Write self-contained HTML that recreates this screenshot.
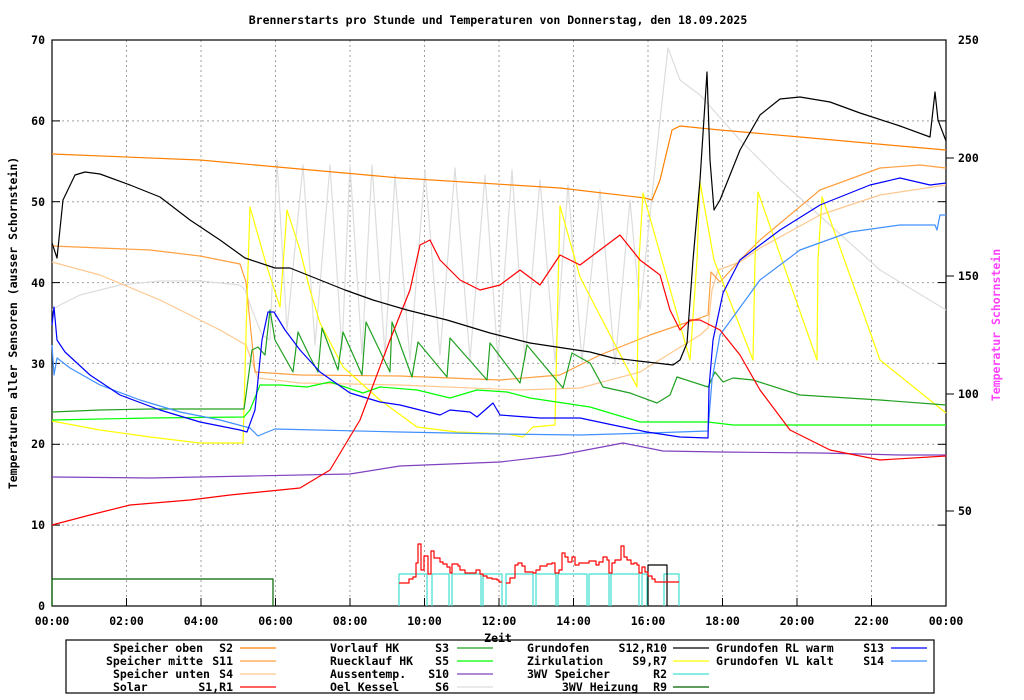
<!DOCTYPE html>
<html><head><meta charset="utf-8"><style>
body{margin:0;background:#fff}
svg{display:block}
text{font-family:"DejaVu Sans Mono","Liberation Mono",monospace;font-size:11.5px;font-weight:bold;fill:#000}
</style></head><body>
<svg width="1024" height="700" xmlns="http://www.w3.org/2000/svg">
<rect width="1024" height="700" fill="#fff"/>
<text x="498" y="24" text-anchor="middle">Brennerstarts pro Stunde und Temperaturen von Donnerstag, den 18.09.2025</text>
<g stroke="#a0a0a0" stroke-dasharray="2,3" stroke-width="1">
<line x1="126.5" y1="40" x2="126.5" y2="606"/><line x1="201" y1="40" x2="201" y2="606"/><line x1="275.5" y1="40" x2="275.5" y2="606"/><line x1="350" y1="40" x2="350" y2="606"/><line x1="424.5" y1="40" x2="424.5" y2="606"/><line x1="499" y1="40" x2="499" y2="606"/><line x1="573.5" y1="40" x2="573.5" y2="606"/><line x1="648" y1="40" x2="648" y2="606"/><line x1="722.5" y1="40" x2="722.5" y2="606"/><line x1="797" y1="40" x2="797" y2="606"/><line x1="871.5" y1="40" x2="871.5" y2="606"/>
<line x1="52" y1="120.9" x2="946" y2="120.9"/><line x1="52" y1="201.7" x2="946" y2="201.7"/><line x1="52" y1="282.6" x2="946" y2="282.6"/><line x1="52" y1="363.4" x2="946" y2="363.4"/><line x1="52" y1="444.3" x2="946" y2="444.3"/><line x1="52" y1="525.1" x2="946" y2="525.1"/>
</g>
<rect x="52" y="40" width="894" height="566" fill="none" stroke="#000" stroke-width="1.2"/>
<g stroke="#000" stroke-width="1">
<line x1="52" y1="120.9" x2="60" y2="120.9"/><line x1="52" y1="201.7" x2="60" y2="201.7"/><line x1="52" y1="282.6" x2="60" y2="282.6"/><line x1="52" y1="363.4" x2="60" y2="363.4"/><line x1="52" y1="444.3" x2="60" y2="444.3"/><line x1="52" y1="525.1" x2="60" y2="525.1"/>
<line x1="938" y1="120.9" x2="946" y2="120.9"/><line x1="938" y1="201.7" x2="946" y2="201.7"/><line x1="938" y1="282.6" x2="946" y2="282.6"/><line x1="938" y1="363.4" x2="946" y2="363.4"/><line x1="938" y1="444.3" x2="946" y2="444.3"/><line x1="938" y1="525.1" x2="946" y2="525.1"/>
<line x1="946" y1="158" x2="954" y2="158"/><line x1="946" y1="276" x2="954" y2="276"/><line x1="946" y1="394" x2="954" y2="394"/><line x1="946" y1="511" x2="954" y2="511"/>
<line x1="126.5" y1="606" x2="126.5" y2="598"/><line x1="201" y1="606" x2="201" y2="598"/><line x1="275.5" y1="606" x2="275.5" y2="598"/><line x1="350" y1="606" x2="350" y2="598"/><line x1="424.5" y1="606" x2="424.5" y2="598"/><line x1="499" y1="606" x2="499" y2="598"/><line x1="573.5" y1="606" x2="573.5" y2="598"/><line x1="648" y1="606" x2="648" y2="598"/><line x1="722.5" y1="606" x2="722.5" y2="598"/><line x1="797" y1="606" x2="797" y2="598"/><line x1="871.5" y1="606" x2="871.5" y2="598"/>
</g>
<g text-anchor="end">
<text x="45" y="44">70</text><text x="45" y="125">60</text><text x="45" y="206">50</text><text x="45" y="287">40</text><text x="45" y="368">30</text><text x="45" y="448">20</text><text x="45" y="529">10</text><text x="45" y="610">0</text>
</g>
<g>
<text x="958" y="44">250</text><text x="958" y="162">200</text><text x="958" y="280">150</text><text x="958" y="398">100</text><text x="958" y="515">50</text>
</g>
<g text-anchor="middle">
<text x="52" y="625">00:00</text><text x="126.5" y="625">02:00</text><text x="201" y="625">04:00</text><text x="275.5" y="625">06:00</text><text x="350" y="625">08:00</text><text x="424.5" y="625">10:00</text><text x="499" y="625">12:00</text><text x="573.5" y="625">14:00</text><text x="648" y="625">16:00</text><text x="722.5" y="625">18:00</text><text x="797" y="625">20:00</text><text x="871.5" y="625">22:00</text><text x="946" y="625">00:00</text>
</g>
<text transform="translate(17,323) rotate(-90)" text-anchor="middle">Temperaturen aller Sensoren (ausser Schornstein)</text>
<text transform="translate(1000,325) rotate(-90)" text-anchor="middle" style="fill:#ff40ff">Temperatur Schornstein</text>

<g fill="none" stroke-width="1.2" stroke-linejoin="round">
<polyline stroke="#dddddd" points="52,310 60,305 80,295 120,285 160,281 200,281 240,285 245,290 252,310 262,335 270,340 277,160 287,330 303,165 315,345 330,165 342,350 350,165 362,355 372,165 385,355 395,175 410,360 425,170 440,355 455,168 470,360 485,175 498,360 512,170 525,360 540,180 555,362 568,185 582,362 600,190 615,365 630,200 640,310 650,215 660,120 668,48 680,80 700,95 740,140 780,180 830,225 880,270 946,310"/>
<polyline stroke="#ffc890" points="52,262 100,275 160,300 220,330 246,345 258,378 300,383 400,385 520,390 580,388 640,372 700,335 708,328 712,290 718,270 740,262 760,248 820,215 880,195 946,185"/>
<polyline stroke="#ffa040" points="52,246 150,250 200,256 240,264 246,282 255,372 300,375 400,376 500,380 560,375 600,355 650,335 700,318 708,315 711,272 720,282 740,260 760,240 820,190 880,168 920,165 946,168"/>
<polyline stroke="#ff8000" points="52,154 200,160 400,178 560,188 645,198 652,200 660,180 672,130 680,126 720,130 800,137 900,146 946,150"/>
<polyline stroke="#ffff00" points="52,421 100,430 150,437 200,443 243,443 247,300 250,207 267,267 280,307 287,210 300,250 310,290 320,323 343,367 380,400 417,427 457,432 507,434 523,437 533,427 555,425 558,290 560,206 580,277 637,387 639,260 643,193 690,360 697,260 700,182 714,260 753,360 755,260 758,192 817,360 818,260 822,197 880,360 946,413"/>
<polyline stroke="#8040c0" points="52,477 150,478 250,476 350,474 400,466 500,462 560,455 623,443 663,451 720,452 820,453 900,455 946,455"/>
<polyline stroke="#00ff00" points="52,420 150,418 244,417 250,410 260,385 280,385 307,387 330,382 363,393 380,387 417,390 450,398 477,390 507,392 530,398 590,407 640,422 708,422 733,425 946,425"/>
<polyline stroke="#20a020" points="52,412 100,410 150,409 244,409 246,395 252,350 258,347 265,355 270,310 275,340 293,372 298,332 310,357 318,372 322,328 338,370 343,332 362,375 366,322 390,372 392,322 412,377 418,342 447,377 450,338 487,380 490,343 520,383 527,345 563,388 572,353 590,363 603,387 630,393 657,403 670,395 677,377 708,387 715,372 723,382 733,378 753,380 800,395 880,400 946,405"/>
<polyline stroke="#4090ff" points="52,345 54,375 57,358 70,368 100,385 140,400 180,412 220,420 250,428 258,436 265,433 275,429 400,432 500,434 580,435 650,433 708,431 712,380 720,335 760,280 800,250 850,232 900,225 935,225 937,230 940,215 946,215"/>
<polyline stroke="#0000ff" points="52,325 54,307 57,340 65,352 90,375 120,395 160,410 200,422 240,430 247,432 255,410 262,340 268,312 274,312 285,330 300,350 320,372 350,393 380,402 400,405 440,415 450,410 470,412 477,417 493,403 500,415 540,418 580,418 613,425 647,432 680,437 708,438 709,388 713,340 723,293 740,260 780,230 820,205 870,185 900,178 930,185 946,183"/>
<polyline stroke="#ff0000" points="52,525 90,515 130,505 190,500 230,495 260,492 300,488 330,470 360,420 390,340 410,290 420,245 430,240 440,260 460,280 480,290 500,285 520,270 540,285 560,255 580,265 600,250 620,235 640,260 660,275 670,310 680,330 690,320 700,320 720,330 740,355 760,390 790,430 830,450 880,460 946,456"/>
<polyline stroke="#000000" points="52,243 57,258 63,200 75,175 85,172 100,174 130,185 160,197 190,220 220,240 245,258 275,268 290,268 300,272 345,290 373,300 407,310 447,320 490,333 530,343 590,352 613,358 647,362 673,365 680,360 687,343 693,260 700,180 707,72 710,160 714,210 720,200 740,150 760,115 780,99 800,97 830,102 860,113 900,126 930,137 935,92 938,120 946,141"/>
<polyline stroke="#006400" points="52,606 52,579 273,579 273,606"/>
<path stroke="#40e0d0" d="M399,606V574H427V606M432,606V574H449V606M452,606V574H481V606M483,606V574H502V606M506,606V574H533V606M536,606V574H556V606M558,606V574H587V606M589,606V574H609V606M611,606V574H639V606M642,606V574H647V606M664,606V574H679V606"/>
<path stroke="#000" d="M648,606V565H667V606"/>
<path stroke="#ff0000" d="M399,583H409V579H413V577H416V563H418V544H421V570H424V556H428V574H431V551H434V558H440V562H443V564H447V567H450V573H452V564H458V566H460V570H465V573H476V570H480V574H483V576H487V578H492V579H497V580H499V582H502 M506,583H510V578H515V565H518V563H522V566H525V572H533V573H536V570H540V566H547V564H552V563H555V573H559V570H562V553H565V557H568V562H572V557H575V565H579V563H589V561H596V565H599V562H603V557H607V560H609V573H612V563H615V560H621V546H624V557H627V560H631V564H634V563H637V565H639V573H642V567H645V572H648V576H652V579H655V582H679"/>
</g>

<rect x="66" y="640" width="868" height="53" fill="#fff" stroke="#000" stroke-width="1.2"/>
<text x="498" y="642" text-anchor="middle">Zeit</text>
<g>
<text x="113" y="652">Speicher oben</text><text x="233" y="652" text-anchor="end">S2</text>
<text x="106" y="665">Speicher mitte</text><text x="233" y="665" text-anchor="end">S11</text>
<text x="113" y="678">Speicher unten</text><text x="233" y="678" text-anchor="end">S4</text>
<text x="113" y="691">Solar</text><text x="233" y="691" text-anchor="end">S1,R1</text>
<text x="330" y="652">Vorlauf HK</text><text x="449" y="652" text-anchor="end">S3</text>
<text x="330" y="665">Ruecklauf HK</text><text x="449" y="665" text-anchor="end">S5</text>
<text x="330" y="678">Aussentemp.</text><text x="449" y="678" text-anchor="end">S10</text>
<text x="330" y="691">Oel Kessel</text><text x="449" y="691" text-anchor="end">S6</text>
<text x="527" y="652">Grundofen</text><text x="667" y="652" text-anchor="end">S12,R10</text>
<text x="527" y="665">Zirkulation</text><text x="667" y="665" text-anchor="end">S9,R7</text>
<text x="527" y="678">3WV Speicher</text><text x="667" y="678" text-anchor="end">R2</text>
<text x="562" y="691">3WV Heizung</text><text x="667" y="691" text-anchor="end">R9</text>
<text x="716" y="652">Grundofen RL warm</text><text x="884" y="652" text-anchor="end">S13</text>
<text x="716" y="665">Grundofen VL kalt</text><text x="884" y="665" text-anchor="end">S14</text>
</g>
<g stroke-width="1.2">
<line x1="240" y1="648" x2="276" y2="648" stroke="#ff8000"/>
<line x1="240" y1="661" x2="276" y2="661" stroke="#ffa040"/>
<line x1="240" y1="674" x2="276" y2="674" stroke="#ffc890"/>
<line x1="240" y1="687" x2="276" y2="687" stroke="#ff0000"/>
<line x1="457" y1="648" x2="493" y2="648" stroke="#20a020"/>
<line x1="457" y1="661" x2="493" y2="661" stroke="#00ff00"/>
<line x1="457" y1="674" x2="493" y2="674" stroke="#8040c0"/>
<line x1="457" y1="687" x2="493" y2="687" stroke="#dddddd"/>
<line x1="673" y1="648" x2="709" y2="648" stroke="#000"/>
<line x1="673" y1="661" x2="709" y2="661" stroke="#ffff00"/>
<line x1="673" y1="674" x2="709" y2="674" stroke="#40e0d0"/>
<line x1="673" y1="687" x2="709" y2="687" stroke="#006400"/>
<line x1="891" y1="648" x2="927" y2="648" stroke="#0000ff"/>
<line x1="891" y1="661" x2="927" y2="661" stroke="#4090ff"/>
</g>
</svg>
</body></html>
